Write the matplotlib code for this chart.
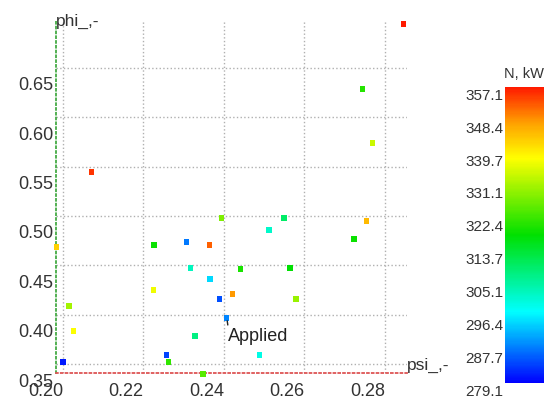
import matplotlib
matplotlib.use("Agg")
import matplotlib.pyplot as plt
from matplotlib.colors import LinearSegmentedColormap, Normalize
from matplotlib.transforms import ScaledTranslation

plt.rcParams["font.family"] = ["Liberation Sans", "DejaVu Sans"]

# scatter data: psi, phi and power N in kW
psi = [0.2847, 0.2745, 0.2768, 0.2070, 0.2393, 0.2549, 0.2512, 0.2755,
       0.2723, 0.1983, 0.2226, 0.2306, 0.2363, 0.2316, 0.2442, 0.2564,
       0.2365, 0.2224, 0.2422, 0.2388, 0.2579, 0.2015, 0.2407, 0.2027,
       0.2328, 0.2258, 0.2489, 0.2000, 0.2263, 0.2348]
phi = [0.6946, 0.6287, 0.5740, 0.5446, 0.4980, 0.4980, 0.4858, 0.4949,
       0.4767, 0.4686, 0.4706, 0.4737, 0.4706, 0.4473, 0.4463, 0.4473,
       0.4361, 0.4250, 0.4209, 0.4159, 0.4159, 0.4088, 0.3966, 0.3834,
       0.3784, 0.3591, 0.3591, 0.3520, 0.3520, 0.3399]
power = [357, 321, 334, 355, 328, 310, 302, 345,
         319, 343, 319, 288, 352, 303, 320, 318,
         295, 337, 348, 285, 330, 331, 289, 338,
         308, 284, 300, 281, 322, 325]
applied = (0.2407, 0.3966)

x_ticks = [0.20, 0.22, 0.24, 0.26, 0.28]
y_ticks = [0.35, 0.40, 0.45, 0.50, 0.55, 0.60, 0.65]
cbar_ticks = [279.1, 287.7, 296.4, 305.1, 313.7, 322.4, 331.1, 339.7, 348.4, 357.1]

cmap = LinearSegmentedColormap.from_list(
    "rainbow5",
    [(0.0, "#0000ff"), (0.24, "#00ffff"), (0.5, "#00e000"),
     (0.76, "#ffff00"), (0.88, "#ffa000"), (1.0, "#ff1a00")])
norm = Normalize(vmin=279.1, vmax=357.1)

fig = plt.figure(figsize=(5.51, 4.01), dpi=100)
ax = fig.add_axes([56 / 551, 28 / 401, 351 / 551, 352 / 401])
cax = fig.add_axes([505 / 551, 18 / 401, 39 / 551, 296 / 401])

sc = ax.scatter(psi, phi, c=power, cmap=cmap, norm=norm, marker="s",
                s=14, edgecolors="none", clip_on=False, zorder=3)

ax.set_xlim(0.19826, 0.28547)
ax.set_ylim(0.3409, 0.6976)
ax.set_xticks(x_ticks)
ax.set_yticks(y_ticks)
ax.set_xticklabels([f"{v:.2f}" for v in x_ticks])
ax.set_yticklabels([f"{v:.2f}" for v in y_ticks])
ax.tick_params(length=0, labelsize=13, labelcolor="#333333")
ax.tick_params(axis="x", pad=7)
ax.tick_params(axis="y", pad=2)
for lab in ax.get_xticklabels():
    lab.set_horizontalalignment("right")
shift_down = ScaledTranslation(0, -0.16, fig.dpi_scale_trans)
for lab in ax.get_yticklabels():
    lab.set_transform(lab.get_transform() + shift_down)

ax.grid(True, color="#b0b0b0", linestyle=":", linewidth=1)
ax.set_axisbelow(True)
for side in ("top", "right"):
    ax.spines[side].set_visible(False)
ax.spines["left"].set_color("#44aa44")
ax.spines["left"].set_linestyle(":")
ax.spines["left"].set_linewidth(1.3)
ax.spines["bottom"].set_color("#dd5555")
ax.spines["bottom"].set_linestyle(":")
ax.spines["bottom"].set_linewidth(1.3)

ax.text(0.0, 1.0, "phi_,-", transform=ax.transAxes, fontsize=12.5,
        color="#333333", ha="left", va="center")
ax.text(1.0, 0.0, "psi_,-", transform=ax.transAxes, fontsize=12.5,
        color="#333333", ha="left", va="bottom")

ax.annotate("Applied", xy=applied, xytext=(1, -7), textcoords="offset points",
            fontsize=13, color="#222222", ha="left", va="top",
            arrowprops=dict(arrowstyle="-", color="#222222", lw=1,
                            shrinkA=0, shrinkB=2, relpos=(0, 1)))

cb = fig.colorbar(sc, cax=cax, ticks=cbar_ticks)
cb.outline.set_visible(False)
cax.yaxis.set_ticks_position("left")
cax.set_yticklabels([f"{v:.1f}" for v in cbar_ticks])
cax.tick_params(length=0, labelsize=11, labelcolor="#333333", pad=1)
cb_shift = ScaledTranslation(0, -0.07, fig.dpi_scale_trans)
for lab in cax.get_yticklabels():
    lab.set_transform(lab.get_transform() + cb_shift)
cax.text(1.0, 1.02, "N, kW", transform=cax.transAxes, fontsize=10.5,
         color="#333333", ha="right", va="bottom")

fig.savefig("out.png", dpi=100)
